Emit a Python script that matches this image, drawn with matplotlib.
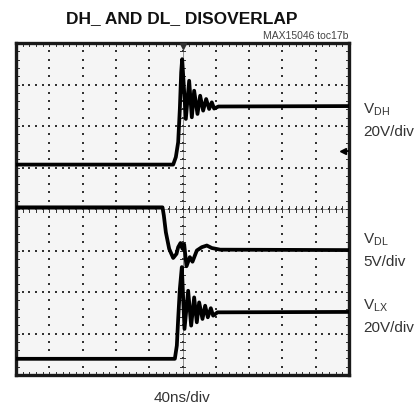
"""Scope capture: DH_ and DL_ disoverlap (MAX15046 toc17b)."""

import numpy as np
import matplotlib.pyplot as plt

# screen units: x in divisions (0..10), y in divisions (0..8)
vdh_t = [0.0, 4.72, 4.80, 4.87, 4.92, 4.96, 4.99, 5.10, 5.20, 5.28, 5.35, 5.45, 5.53,
         5.62, 5.71, 5.80, 5.88, 5.95, 6.08, 10.0]
vdh_y = [5.07, 5.07, 5.25, 5.61, 6.41, 7.29, 7.61, 6.17, 7.09, 6.21, 6.85, 6.29, 6.73,
         6.37, 6.65, 6.41, 6.57, 6.42, 6.47, 6.48]

vdl_t = [0.0, 4.40, 4.44, 4.50, 4.60, 4.72, 4.82, 4.87, 4.94, 5.00, 5.05, 5.12, 5.22,
         5.30, 5.43, 5.58, 5.73, 5.88, 6.13, 10.0]
vdl_y = [4.04, 4.04, 3.84, 3.44, 3.04, 2.82, 2.92, 3.08, 3.18, 3.04, 3.15, 2.62, 2.84,
         2.73, 3.00, 3.08, 3.12, 3.06, 3.02, 3.01]

vlx_t = [0.0, 4.77, 4.83, 4.87, 4.92, 4.98, 5.06, 5.17, 5.26, 5.35, 5.43, 5.50, 5.60,
         5.68, 5.76, 5.85, 5.92, 6.05, 10.0]
vlx_y = [0.39, 0.39, 0.71, 1.35, 2.07, 2.60, 1.11, 2.03, 1.19, 1.87, 1.27, 1.75, 1.35,
         1.67, 1.39, 1.61, 1.43, 1.51, 1.52]

ch_labels = [("V$_{\\mathrm{DH}}$", "20V/div", 102), ("V$_{\\mathrm{DL}}$", "5V/div", 232),
             ("V$_{\\mathrm{LX}}$", "20V/div", 298)]
ground_marker = 5.40

plt.rcParams["font.family"] = ["Liberation Sans", "DejaVu Sans"]
plt.rcParams["mathtext.fontset"] = "custom"
plt.rcParams["mathtext.rm"] = "Liberation Sans"
plt.rcParams["mathtext.it"] = "Liberation Sans"

W, H = 418, 410
fig = plt.figure(figsize=(W / 100, H / 100), dpi=100)
ax = fig.add_axes([16 / W, 1 - 376 / H, 333 / W, 332 / H])
ax.set_xlim(0, 10)
ax.set_ylim(0, 8)
ax.set_facecolor("#f5f5f5")
ax.set_xticks([])
ax.set_yticks([])
for sp in ax.spines.values():
    sp.set_linewidth(2.4)
    sp.set_color("#1a1a1a")

# dotted graticule
dot = dict(s=1.0, c="#333333", marker="s", linewidths=0, zorder=1)
xs = np.arange(0, 10.01, 0.2)
ys = np.arange(0, 8.01, 0.2)
for gy in range(1, 8):
    ax.scatter(xs, np.full_like(xs, gy), **dot)
for gx in range(1, 10):
    ax.scatter(np.full_like(ys, gx), ys, **dot)

# centre axes and frame with minor ticks
tick = dict(color="#333333", lw=0.7, zorder=1)
ax.plot([5, 5], [0, 8], color="#444444", lw=0.4, zorder=1)
ax.plot([0, 10], [4, 4], color="#444444", lw=0.4, zorder=1)
for x in xs:
    ax.plot([x, x], [4 - 0.07, 4 + 0.07], **tick)
    ax.plot([x, x], [8, 8 - 0.07], **tick)
    ax.plot([x, x], [0, 0.07], **tick)
for y in ys:
    ax.plot([5 - 0.09, 5 + 0.09], [y, y], **tick)
    ax.plot([0, 0.09], [y, y], **tick)
    ax.plot([10, 10 - 0.09], [y, y], **tick)

# traces
trace = dict(color="black", lw=2.7, solid_joinstyle="round", zorder=3)
ax.plot(vdh_t, vdh_y, **trace)
ax.plot(vdl_t, vdl_y, **trace)
ax.plot(vlx_t, vlx_y, **trace)

# trigger / ground markers
ax.plot([5], [7.93], marker="v", ms=5, color="#333333", clip_on=False, zorder=4)
ax.plot([9.85, 10], [ground_marker, ground_marker], color="black", lw=1.2, zorder=4)
ax.plot([9.82], [ground_marker], marker="<", ms=5, color="black", zorder=4)

fig.text(182 / W, 1 - 19 / H, "DH_ AND DL_ DISOVERLAP", ha="center", va="center",
         fontsize=12.5, fontweight="bold", color="#111111")
fig.text(348 / W, 1 - 36 / H, "MAX15046 toc17b", ha="right", va="center",
         fontsize=7.5, color="#444444")
for name, scale, top in ch_labels:
    fig.text(363 / W, 1 - top / H, name, ha="left", va="top", fontsize=11, color="#333333")
    fig.text(363 / W, 1 - (top + 23) / H, scale, ha="left", va="top", fontsize=11,
             color="#333333")
fig.text(182 / W, 1 - 391 / H, "40ns/div", ha="center", va="top", fontsize=11,
         color="#333333")

fig.savefig("out.png", dpi=100)
